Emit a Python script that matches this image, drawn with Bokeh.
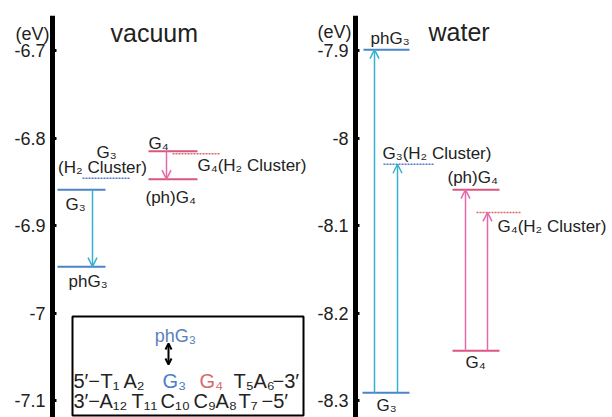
from bokeh.plotting import figure
from bokeh.models import Range1d, FixedTicker, Arrow, OpenHead, LinearAxis
from bokeh.core.properties import value
from bokeh.embed import file_html
from bokeh.resources import INLINE

# ---------------- data ----------------
vac_levels = ["G3", "G3(H2 Cluster)", "phG3", "G4", "G4(H2 Cluster)", "(ph)G4"]
vac_energy = [-6.859, -6.846, -6.947, -6.815, -6.818, -6.847]
wat_levels = ["G3", "G3(H2 Cluster)", "phG3", "G4", "G4(H2 Cluster)", "(ph)G4"]
wat_energy = [-8.291, -8.030, -7.899, -8.243, -8.085, -8.059]
vac_transitions = [("G3", "phG3"), ("G4", "(ph)G4")]
wat_transitions = [("G3", "phG3"), ("G3", "G3(H2 Cluster)"),
                   ("G4", "(ph)G4"), ("G4", "G4(H2 Cluster)")]
vac_ticks = [-6.7, -6.8, -6.9, -7.0, -7.1]
vac_tick_labels = ["-6.7", "-6.8", "-6.9", "-7", "-7.1"]
wat_ticks = [-7.9, -8.0, -8.1, -8.2, -8.3]
wat_tick_labels = ["-7.9", "-8", "-8.1", "-8.2", "-8.3"]
panel_titles = ["vacuum", "water"]
unit_label = "(eV)"
seq_probe = "phG₃"
seq_top = ["5′−", "T₁", "A₂", "G₃", "G₄", "T₅", "A₆", "−3′"]
seq_bottom = ["3′−", "A₁₂", "T₁₁", "C₁₀", "C₉", "A₈", "T₇", "−5′"]

# ---------------- layout / style ----------------
W, H = 612, 417
FONT = "Liberation Sans"
TXT = "#222222"
SCALE = 875.0           # px per eV
TOP_PX, TICK_PX = 15, 50
BLUE, BLUE_D, CYAN = "#4a86c6", "#5577cc", "#38b0d0"
PINK, PINK_D, MAG = "#d9577f", "#d86a6a", "#e46aac"
SEQ_BLUE, SEQ_RED = "#4a80c8", "#d46a6a"

vac_xspan = {"G3": (57, 105), "G3(H2 Cluster)": (82, 130), "phG3": (57, 105),
             "G4": (148, 197), "G4(H2 Cluster)": (172, 220), "(ph)G4": (148, 197)}
wat_xspan = {"G3": (362, 409), "G3(H2 Cluster)": (383, 433), "phG3": (363, 409),
             "G4": (452, 499), "G4(H2 Cluster)": (476, 520), "(ph)G4": (452, 499)}
vac_arrow_x = [92, 166]
wat_arrow_x = [374, 397, 465, 487]
# label text, x, align, y offset (px, down positive)
vac_lab = {"G3": [("G₃", 65, "left", 15)],
           "phG3": [("phG₃", 68, "left", 15)],
           "G3(H2 Cluster)": [("G₃", 106, "center", -26), ("(H₂ Cluster)", 102, "center", -11)],
           "G4": [("G₄", 148, "left", -8)],
           "G4(H2 Cluster)": [("G₄(H₂ Cluster)", 197, "left", 12)],
           "(ph)G4": [("(ph)G₄", 145, "left", 18)]}
wat_lab = {"phG3": [("phG₃", 370, "left", -11)],
           "G3(H2 Cluster)": [("G₃(H₂ Cluster)", 382, "left", -11)],
           "(ph)G4": [("(ph)G₄", 447, "left", -12)],
           "G4(H2 Cluster)": [("G₄(H₂ Cluster)", 497, "left", 14)],
           "G4": [("G₄", 465, "left", 12)],
           "G3": [("G₃", 376, "left", 13)]}

p = figure(width=W, height=H, output_backend="svg", toolbar_location=None,
           x_range=Range1d(0, W),
           y_range=Range1d(vac_ticks[0] - (H - TICK_PX) / SCALE, vac_ticks[0] + (TICK_PX - TOP_PX) / SCALE),
           x_axis_location=None, y_axis_location=None,
           min_border_left=0, min_border_right=0, min_border_top=TOP_PX, min_border_bottom=0)
p.title.visible = False
p.extra_y_ranges = {
    "water": Range1d(wat_ticks[0] - (H - TICK_PX) / SCALE, wat_ticks[0] + (TICK_PX - TOP_PX) / SCALE),
    "px": Range1d(H, TOP_PX),
}
p.xgrid.visible = False
p.ygrid.visible = False
p.outline_line_color = None
p.background_fill_color = "white"
p.border_fill_color = "white"


def add_axis(range_name, loc, ticks, tick_labels):
    kw = {} if range_name is None else {"y_range_name": range_name}
    ax = LinearAxis(fixed_location=loc, **kw)
    ax.ticker = FixedTicker(ticks=ticks, minor_ticks=[])
    ax.major_label_overrides = {t: l for t, l in zip(ticks, tick_labels)}
    ax.axis_line_width = 5
    ax.axis_line_color = "black"
    ax.major_tick_in = 4
    ax.major_tick_out = 0
    ax.major_tick_line_width = 3
    ax.minor_tick_line_color = None
    ax.major_label_standoff = 7
    ax.major_label_text_font = FONT
    ax.major_label_text_font_size = "18px"
    ax.major_label_text_color = TXT
    p.add_layout(ax, "left")


def draw_panel(range_name, levels, energy, xspan, transitions, arrow_x, labs):
    E = dict(zip(levels, energy))
    for name in levels:
        x0, x1 = xspan[name]
        dashed = "H2" in name
        g3 = "G3" in name
        col = (BLUE_D if dashed else BLUE) if g3 else (PINK_D if dashed else PINK)
        p.segment(x0=[x0], y0=[E[name]], x1=[x1], y1=[E[name]], y_range_name=range_name,
                  line_color=col, line_width=1.5 if dashed else 2,
                  line_dash="2 1" if dashed else "solid")
        for txt, x, align, dy in labs.get(name, []):
            p.text(x=[x], y=[E[name]], text=[txt], y_range_name=range_name,
                   text_align=align, text_baseline="middle", y_offset=dy,
                   text_font=value(FONT), text_font_size="17px", text_color=TXT)
    for (a, b), x in zip(transitions, arrow_x):
        col = CYAN if "G3" in a else MAG
        p.add_layout(Arrow(end=OpenHead(size=9, line_color=col, line_width=1.5),
                           x_start=x, y_start=E[a], x_end=x, y_end=E[b],
                           y_range_name=range_name, line_color=col, line_width=1.5))


add_axis(None, 52, vac_ticks, vac_tick_labels)
add_axis("water", 355, wat_ticks, wat_tick_labels)
draw_panel("default", vac_levels, vac_energy, vac_xspan, vac_transitions, vac_arrow_x, vac_lab)
draw_panel("water", wat_levels, wat_energy, wat_xspan, wat_transitions, wat_arrow_x, wat_lab)

# headers: unit and panel titles
p.text(x=[15, 317], y=[33, 31], text=[unit_label, unit_label], y_range_name="px",
       text_baseline="middle", text_font=value(FONT), text_font_size="18px", text_color=TXT)
p.text(x=[110, 428], y=[32, 31], text=panel_titles, y_range_name="px",
       text_baseline="middle", text_font=value(FONT), text_font_size="25px", text_color=TXT)

# inset box with the sequence
p.quad(left=[72], right=[303], top=[316], bottom=[415], y_range_name="px",
       fill_color=None, line_color="black", line_width=2)
p.text(x=[175], y=[335], text=[seq_probe], y_range_name="px", text_align="center",
       text_baseline="middle", text_font=value(FONT), text_font_size="18px",
       text_color="#5a7fbf")
p.add_layout(Arrow(start=OpenHead(size=6, line_color="black", line_width=2),
                   end=OpenHead(size=6, line_color="black", line_width=2),
                   x_start=168, y_start=343, x_end=168, y_end=364, y_range_name="px",
                   line_color="black", line_width=2))
top_x = [73, 100, 123, 162, 199, 233, 253, 272]
top_c = [TXT, TXT, TXT, SEQ_BLUE, SEQ_RED, TXT, TXT, TXT]
p.text(x=top_x, y=[380] * len(seq_top), text=seq_top, y_range_name="px",
       text_baseline="middle", text_font=value(FONT), text_font_size="20px",
       text_color=top_c)
bot_x = [73, 99, 131, 160, 193, 215, 238, 261]
p.text(x=bot_x, y=[400] * len(seq_bottom), text=seq_bottom, y_range_name="px",
       text_baseline="middle", text_font=value(FONT), text_font_size="20px",
       text_color=TXT)

open("out.html", "w").write(file_html(p, INLINE))
